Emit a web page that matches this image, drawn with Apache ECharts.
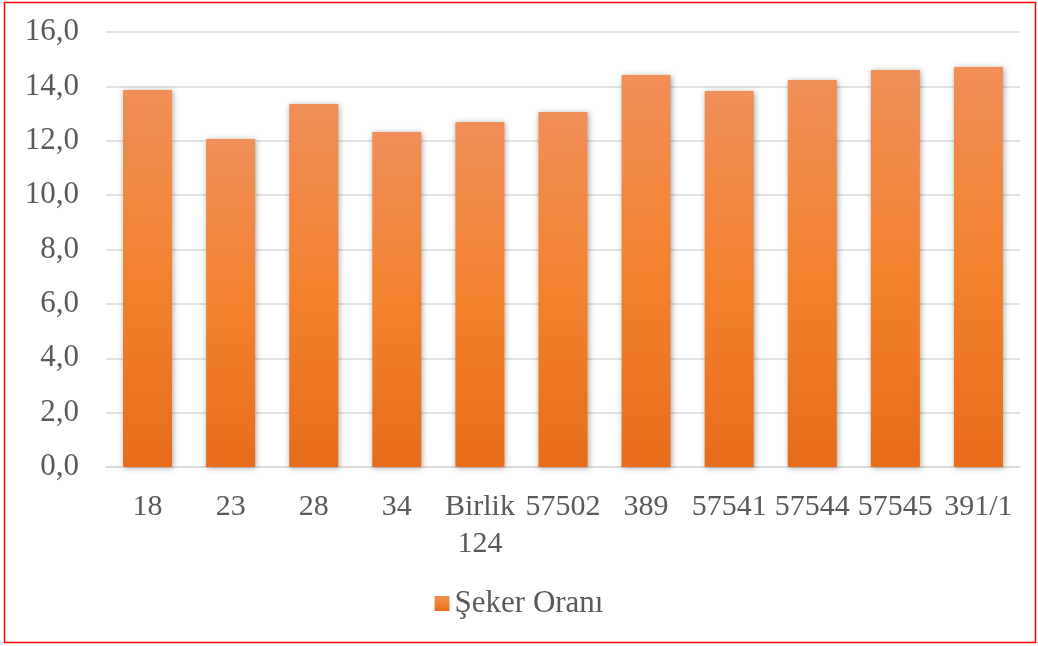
<!DOCTYPE html>
<html>
<head>
<meta charset="utf-8">
<script src="https://cdn.jsdelivr.net/npm/echarts@6/dist/echarts.min.js"></script>
<style>
  html, body { margin: 0; padding: 0; background: #fff; }
  #chart { width: 1038px; height: 646px; }
</style>
</head>
<body>
<div id="chart"></div>
<script>
var categories = ['18', '23', '28', '34', 'Birlik 124', '57502', '389', '57541', '57544', '57545', '391/1']
var sekerOrani = [13.87, 12.06, 13.35, 12.32, 12.69, 13.06, 14.42, 13.83, 14.23, 14.6, 14.71]
var seriesName = 'Şeker Oranı'

var font = 'Liberation Serif, Times New Roman, serif'
var chart = echarts.init(document.getElementById('chart'))

var option = {
  backgroundColor: '#fff',
  animation: false,
  textStyle: { fontFamily: font },
  graphic: [{
    type: 'rect',
    shape: { x: 4.5, y: 2.5, width: 1031, height: 640 },
    style: { fill: 'none', stroke: '#ff0000', lineWidth: 1.5 },
    silent: true
  }],
  grid: {
    left: 106,
    right: 18,
    top: 32,
    bottom: 179
  },
  legend: {
    data: [seriesName],
    bottom: 22,
    left: 'center',
    icon: 'rect',
    itemWidth: 15,
    itemHeight: 15,
    itemGap: 4,
    textStyle: { fontFamily: font, fontSize: 31, color: '#595959' }
  },
  xAxis: {
    type: 'category',
    data: categories,
    axisTick: { show: false },
    axisLine: { lineStyle: { color: '#d9d9d9', width: 1.5 } },
    axisLabel: {
      interval: 0,
      margin: 22,
      color: '#595959',
      fontSize: 30,
      fontFamily: font,
      lineHeight: 37,
      formatter: function (v) { return v.replace(' ', '\n') }
    }
  },
  yAxis: {
    type: 'value',
    min: 0,
    max: 16,
    interval: 2,
    axisLine: { show: false },
    axisTick: { show: false },
    splitLine: { lineStyle: { color: '#d9d9d9', width: 1.5 } },
    axisLabel: {
      margin: 27,
      color: '#595959',
      fontSize: 31,
      fontFamily: font,
      formatter: function (v) { return v.toFixed(1).replace('.', ',') }
    }
  },
  series: [{
    name: seriesName,
    type: 'bar',
    data: sekerOrani,
    barWidth: '59%',
    itemStyle: {
      color: new echarts.graphic.LinearGradient(0, 0, 0, 1, [
        { offset: 0, color: '#f08f58' },
        { offset: 0.5, color: '#f3822f' },
        { offset: 1, color: '#e76c1b' }
      ]),
      shadowColor: 'rgba(0,0,0,0.35)',
      shadowBlur: 6,
      shadowOffsetX: 1,
      shadowOffsetY: 1
    }
  }]
}

chart.setOption(option)
</script>
</body>
</html>
